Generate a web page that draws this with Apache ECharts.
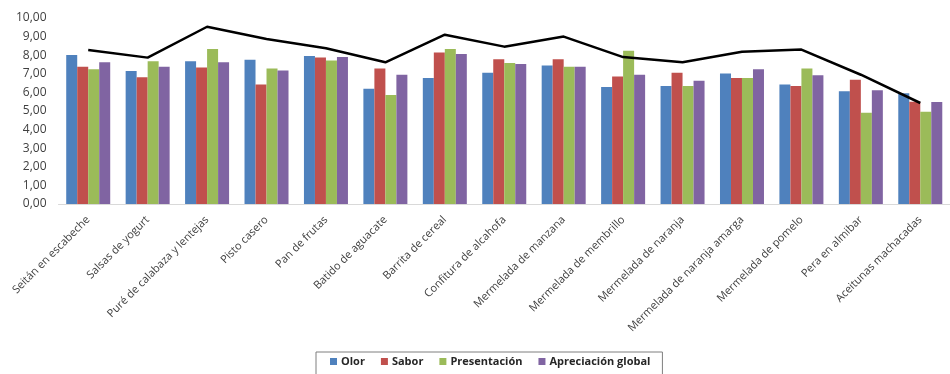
<!DOCTYPE html>
<html><head><meta charset="utf-8">
<script src="https://cdn.jsdelivr.net/npm/echarts@6/dist/echarts.min.js"></script>
<style>html,body{margin:0;padding:0;background:#fff}#c{width:950px;height:374px}</style>
</head><body><div id="c"></div>
<script>
const categories = ["Seitán en escabeche","Salsas de yogurt","Puré de calabaza y lentejas","Pisto casero","Pan de frutas","Batido de aguacate","Barrita de cereal","Confitura de alcahofa","Mermelada de manzana","Mermelada de membrillo","Mermelada de naranja","Mermelada de naranja amarga","Mermelada de pomelo","Pera en almibar","Aceitunas machacadas"];
const olor = [8.01,7.15,7.67,7.76,7.96,6.20,6.77,7.06,7.44,6.29,6.34,7.01,6.43,6.06,5.95];
const sabor = [7.38,6.81,7.34,6.43,7.87,7.29,8.15,7.78,7.78,6.86,7.06,6.77,6.34,6.68,5.50];
const presentacion = [7.24,7.67,8.33,7.29,7.72,5.86,8.33,7.58,7.38,8.24,6.34,6.77,7.29,4.91,4.96];
const apreciacion = [7.62,7.38,7.62,7.18,7.90,6.95,8.06,7.53,7.38,6.95,6.63,7.24,6.92,6.11,5.48];
const linea = [8.28,7.87,9.53,8.87,8.37,7.62,9.10,8.46,9.00,7.90,7.62,8.19,8.30,6.95,5.43];
const yTicks = [0,1,2,3,4,5,6,7,8,9,10];

const chart = echarts.init(document.getElementById('c'));
const font = 'Open Sans';
const barBase = {type:'bar', barWidth:11, barGap:'0%'};
chart.setOption({
  animation:false,
  textStyle:{fontFamily:font},
  grid:{left:58.5, right:-13, top:18, bottom:170, containLabel:false},
  legend:{
    data:['Olor','Sabor','Presentación','Apreciación global'],
    left:316, top:352, icon:'rect', itemWidth:7, itemHeight:7, itemGap:16,
    borderColor:'#7f7f7f', borderWidth:1, padding:[4,12,8,14],
    textStyle:{fontFamily:font, fontWeight:'bold', fontSize:11, color:'#262626', padding:[0,0,0,-1]}
  },
  xAxis:{
    type:'category', data:categories,
    axisLine:{lineStyle:{color:'#d9d9d9', width:1}},
    axisTick:{show:false},
    axisLabel:{interval:0, rotate:45, fontSize:11, color:'#404040', margin:14, fontFamily:font}
  },
  yAxis:{
    type:'value', min:yTicks[0], max:yTicks[yTicks.length-1], interval:1,
    splitLine:{show:false}, axisLine:{show:false}, axisTick:{show:false},
    axisLabel:{fontSize:12, color:'#404040', margin:12, fontFamily:font,
      formatter:v=>v.toFixed(2).replace('.',',')}
  },
  series:[
    Object.assign({name:'Olor', data:olor, itemStyle:{color:'#4F81BD'}}, barBase),
    Object.assign({name:'Sabor', data:sabor, itemStyle:{color:'#C0504D'}}, barBase),
    Object.assign({name:'Presentación', data:presentacion, itemStyle:{color:'#9BBB59'}}, barBase),
    Object.assign({name:'Apreciación global', data:apreciacion, itemStyle:{color:'#8064A2'}}, barBase),
    {name:'Total', type:'line', data:linea, symbol:'none', z:5,
     lineStyle:{color:'#000', width:2.5}}
  ]
});
</script></body></html>
